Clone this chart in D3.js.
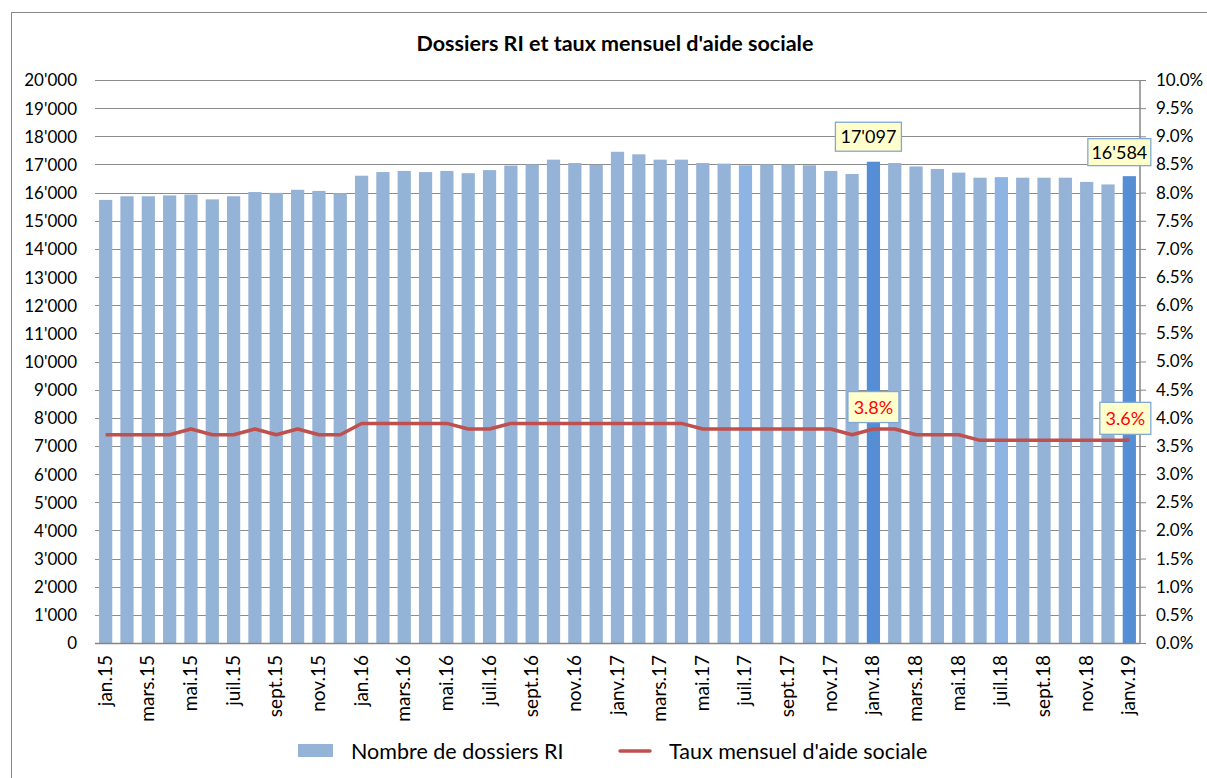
<!DOCTYPE html>
<html><head><meta charset="utf-8">
<script src="https://cdn.jsdelivr.net/npm/d3@7/dist/d3.min.js"></script>
<style>body{margin:0;background:#fff;font-family:Lato,"Open Sans",sans-serif;}</style>
</head><body>
<svg id="c" width="1207" height="778"></svg>
<script>
const months = ["jan.15","févr.15","mars.15","avr.15","mai.15","juin.15","juil.15","août.15","sept.15","oct.15","nov.15","déc.15",
"jan.16","févr.16","mars.16","avr.16","mai.16","juin.16","juil.16","août.16","sept.16","oct.16","nov.16","déc.16",
"janv.17","févr.17","mars.17","avr.17","mai.17","juin.17","juil.17","août.17","sept.17","oct.17","nov.17","déc.17",
"janv.18","févr.18","mars.18","avr.18","mai.18","juin.18","juil.18","août.18","sept.18","oct.18","nov.18","déc.18","janv.19"];
const dossiers = [15740,15870,15870,15900,15930,15760,15870,16020,15990,16100,16060,15980,
16600,16730,16770,16730,16770,16690,16800,16960,17000,17170,17050,16990,
17450,17360,17170,17170,17050,17030,16970,17000,17000,16970,16770,16660,
17097,17050,16930,16840,16710,16530,16550,16530,16530,16530,16380,16290,16584];
const taux = [3.7,3.7,3.7,3.7,3.8,3.7,3.7,3.8,3.7,3.8,3.7,3.7,
3.9,3.9,3.9,3.9,3.9,3.8,3.8,3.9,3.9,3.9,3.9,3.9,
3.9,3.9,3.9,3.9,3.8,3.8,3.8,3.8,3.8,3.8,3.8,3.7,
3.8,3.8,3.7,3.7,3.7,3.6,3.6,3.6,3.6,3.6,3.6,3.6,3.6];
const highlighted = ["janv.18","janv.19"];
const lighter = ["juil.17","juil.18"];
const leftTicks = d3.range(0,20001,1000);
const rightTicks = d3.range(0,10.01,0.5);
const title = "Dossiers RI et taux mensuel d'aide sociale";
const legendLabels = ["Nombre de dossiers RI","Taux mensuel d'aide sociale"];

const svg = d3.select("#c");
const L=95, R=1140, T=80, B=643;
const x = d3.scaleBand().domain(months).range([L,R]).paddingInner(0.38).paddingOuter(0.19);
const y = d3.scaleLinear().domain([0,20000]).range([B,T]);
const y2 = d3.scaleLinear().domain([0,10]).range([B,T]);
const font = "Lato, 'Open Sans', sans-serif";
const fmtN = d => d3.format(",")(d).replace(/,/g,"'");

svg.append("rect").attr("x",11.5).attr("y",12.5).attr("width",1210).attr("height",800)
  .attr("fill","none").attr("stroke","#888").attr("stroke-width",1);

svg.append("text").attr("x",615).attr("y",51).attr("text-anchor","middle")
  .attr("font-family",font).attr("font-weight","bold").attr("font-size",21.5).attr("fill","#000").text(title);

// gridlines
svg.append("g").selectAll("line").data(leftTicks.slice(1)).join("line")
  .attr("x1",L).attr("x2",R).attr("y1",d=>Math.round(y(d))+0.5).attr("y2",d=>Math.round(y(d))+0.5)
  .attr("stroke","#8c8c8c").attr("stroke-width",1);

// left axis
const ga = svg.append("g").attr("transform",`translate(${L-18},0)`)
  .call(d3.axisLeft(y).tickValues(leftTicks).tickSize(0).tickPadding(0).tickFormat(fmtN));
ga.select(".domain").remove();
ga.selectAll("text").attr("font-family",font).attr("font-size",17).attr("fill","#000").attr("dy","0.35em");

// bars
svg.append("g").selectAll("rect").data(months).join("rect")
  .attr("x",d=>x(d)).attr("width",x.bandwidth())
  .attr("y",(d,i)=>y(dossiers[i])).attr("height",(d,i)=>B-y(dossiers[i]))
  .attr("fill",d=>highlighted.includes(d)?"#558ED5":(lighter.includes(d)?"#8DB4E2":"#95B3D7"));

// bottom axis line
svg.append("line").attr("x1",L).attr("x2",R).attr("y1",B+0.5).attr("y2",B+0.5).attr("stroke","#868686").attr("stroke-width",1.5);

// right axis
const gr = svg.append("g").attr("transform",`translate(${R},0)`)
  .call(d3.axisRight(y2).tickValues(rightTicks).tickSize(6).tickPadding(10).tickFormat(d=>d3.format(".1f")(d)+"%"));
gr.select(".domain").attr("stroke","#868686").attr("stroke-width",1.5).attr("d",`M0,${T}V${B}`);
gr.selectAll(".tick line").attr("stroke","#868686");
gr.selectAll("text").attr("font-family",font).attr("font-size",17).attr("fill","#000");

// x labels
svg.append("g").selectAll("text").data(months.filter((d,i)=>i%2===0)).join("text")
  .attr("transform",d=>`translate(${x(d)+x.bandwidth()/2+6},${B+12}) rotate(-90)`)
  .attr("text-anchor","end").attr("font-family",font).attr("font-size",19).attr("fill","#000").text(d=>d);

// line
const line = d3.line().x((d,i)=>x(months[i])+x.bandwidth()/2).y(d=>y2(d));
svg.append("path").datum(taux).attr("d",line).attr("fill","none").attr("stroke","#C0504D").attr("stroke-width",3.5).attr("stroke-linejoin","round");

// callouts
function callout(cx, cy, w, h, txt, color){
  const g = svg.append("g");
  g.append("rect").attr("x",cx-w/2).attr("y",cy-h/2).attr("width",w).attr("height",h)
    .attr("fill","#FFFFCC").attr("stroke","#7FA8D8").attr("stroke-width",1.3);
  g.append("text").attr("x",cx).attr("y",cy).attr("text-anchor","middle").attr("dy","0.36em")
    .attr("font-family",font).attr("font-size",18).attr("fill",color).text(txt);
}
const iA = months.indexOf("janv.18"), iB = months.indexOf("janv.19");
const cA = x("janv.18")+x.bandwidth()/2, cB = x("janv.19")+x.bandwidth()/2;
callout(cA-5, y(dossiers[iA])-25, 66, 29, fmtN(dossiers[iA]), "#000");
callout(cB-10, y(dossiers[iB])-24, 63, 27, fmtN(dossiers[iB]), "#000");
callout(cA, y2(taux[iA])-22, 51, 31, d3.format(".1f")(taux[iA])+"%", "#FF0000");
callout(cB-4, y2(taux[iB])-22, 51, 32, d3.format(".1f")(taux[iB])+"%", "#FF0000");

// legend
const lg = svg.append("g");
lg.append("rect").attr("x",298).attr("y",744).attr("width",35).attr("height",13).attr("fill","#95B3D7");
lg.append("text").attr("x",351).attr("y",751).attr("dy","0.35em").attr("font-family",font).attr("font-size",21.5).text(legendLabels[0]);
lg.append("line").attr("x1",620).attr("x2",650).attr("y1",751).attr("y2",751).attr("stroke","#C0504D").attr("stroke-width",3.5).attr("stroke-linecap","round");
lg.append("text").attr("x",669).attr("y",751).attr("dy","0.35em").attr("font-family",font).attr("font-size",21.5).text(legendLabels[1]);
</script>
</body></html>
